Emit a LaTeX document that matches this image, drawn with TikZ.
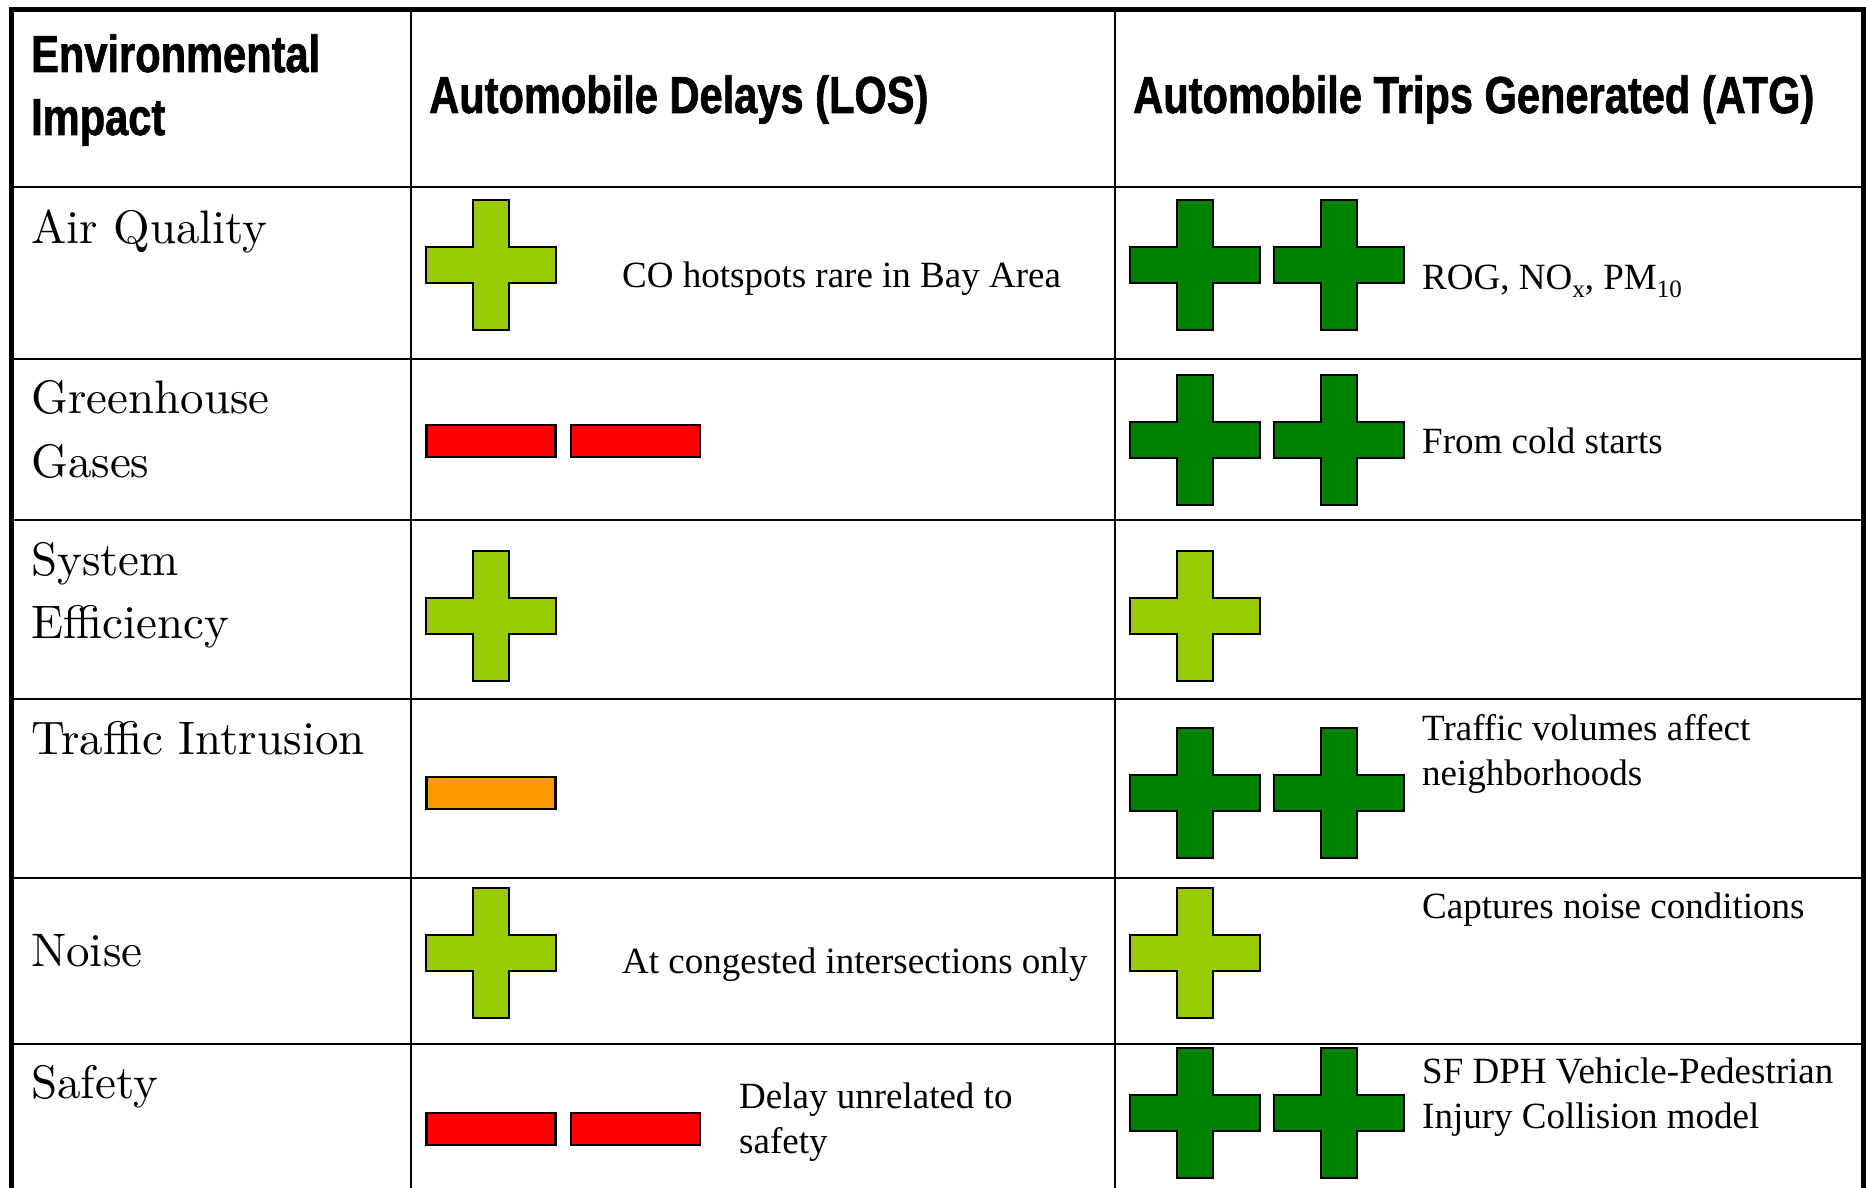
\documentclass[tikz,border=0pt]{standalone}
\usepackage{fontspec}
\newfontfamily\hdrfont[FakeStretch=0.8,BoldFeatures={FakeBold=1.2}]{Liberation Sans}
\newfontfamily\notefont{Liberation Serif}
\newfontfamily\lblfont[Extension=.otf]{lmroman10-regular}
\definecolor{lgreen}{HTML}{99CC00}
\definecolor{dgreen}{HTML}{008000}
\definecolor{minred}{HTML}{FF0000}
\definecolor{minorange}{HTML}{FF9900}
\newcommand\plusicon[3]{%
  \filldraw[icon, fill=#3, shift={(#1,#2)}] (-18,-65) -- (18,-65) -- (18,-18) -- (65,-18) -- (65,18) -- (18,18) -- (18,65) -- (-18,65) -- (-18,18) -- (-65,18) -- (-65,-18) -- (-18,-18) -- cycle;}
\newcommand\minusicon[3]{%
  \filldraw[icon, fill=#3, shift={(#1,#2)}] (-64.5,-16) rectangle (64.5,16);}
\newcommand\subtxt[1]{\raisebox{-0.22em}{\fontsize{25}{25}\selectfont #1}}
\begin{document}
\begin{tikzpicture}[x=1pt,y=-1pt,
  icon/.style={draw=black,line width=2.5pt,line join=miter},
  grid/.style={line width=2.2pt},
  frame/.style={line width=5pt},
  hdr/.style={anchor=base west,inner sep=0pt,font=\hdrfont\bfseries\fontsize{52}{60}\selectfont},
  lbl/.style={anchor=base west,inner sep=0pt,font=\lblfont\fontsize{47}{56}\selectfont},
  note/.style={anchor=base west,inner sep=0pt,font=\notefont\fontsize{37}{45}\selectfont}]
\useasboundingbox (0,0) rectangle (1866,1188);
\fill[white] (0,0) rectangle (1866,1188);
% grid
\foreach \yy in {187,359,520,699,878,1044} \draw[grid] (11,\yy) -- (1863,\yy);
\foreach \xx in {411,1115} \draw[grid] (\xx,9.5) -- (\xx,1188);
\draw[frame] (8.5,9.5) -- (1866,9.5);
\draw[frame] (11,7) -- (11,1188);
\draw[frame] (1863,7) -- (1863,1188);
% headers
\node[hdr] (h1a) at (31,72) {Environmental};
\node[hdr] (h1b) at (31,135) {Impact};
\node[hdr] (h2) at (429,113) {Automobile Delays (LOS)};
\node[hdr] (h3) at (1133,113) {Automobile Trips Generated (ATG)};
% row labels
\node[lbl] (r1) at (31,243) {Air Quality};
\node[lbl] (r2a) at (31,413) {Greenhouse};
\node[lbl] (r2b) at (31,477) {Gases};
\node[lbl] (r3a) at (31,575) {System};
\node[lbl] (r3b) at (31,638) {Efficiency};
\node[lbl] (r4) at (31,754) {Traffic Intrusion};
\node[lbl] (r5) at (31,966) {Noise};
\node[lbl] (r6) at (31,1098) {Safety};
% row 1
\plusicon{491}{265}{lgreen}
\plusicon{1195}{265}{dgreen}
\plusicon{1339}{265}{dgreen}
\node[note] (n1a) at (622,287) {CO hotspots rare in Bay Area};
\node[note] (n1b) at (1422,289) {ROG, NO\subtxt{x}, PM\subtxt{10}};
% row 2
\minusicon{491}{441}{minred}
\minusicon{635.5}{441}{minred}
\plusicon{1195}{440}{dgreen}
\plusicon{1339}{440}{dgreen}
\node[note] (n2) at (1422,453) {From cold starts};
% row 3
\plusicon{491}{616}{lgreen}
\plusicon{1195}{616}{lgreen}
% row 4
\minusicon{491}{793}{minorange}
\plusicon{1195}{793}{dgreen}
\plusicon{1339}{793}{dgreen}
\node[note] (n4a) at (1422,740) {Traffic volumes affect};
\node[note] (n4b) at (1422,785) {neighborhoods};
% row 5
\plusicon{491}{953}{lgreen}
\plusicon{1195}{953}{lgreen}
\node[note] (n5a) at (622,973) {At congested intersections only};
\node[note] (n5b) at (1422,918) {Captures noise conditions};
% row 6
\minusicon{491}{1129}{minred}
\minusicon{635.5}{1129}{minred}
\plusicon{1195}{1113}{dgreen}
\plusicon{1339}{1113}{dgreen}
\node[note] (n6a) at (739,1108) {Delay unrelated to};
\node[note] (n6b) at (739,1153) {safety};
\node[note] (n6c) at (1422,1083) {SF DPH Vehicle-Pedestrian};
\node[note] (n6d) at (1422,1128) {Injury Collision model};
\end{tikzpicture}
\end{document}
